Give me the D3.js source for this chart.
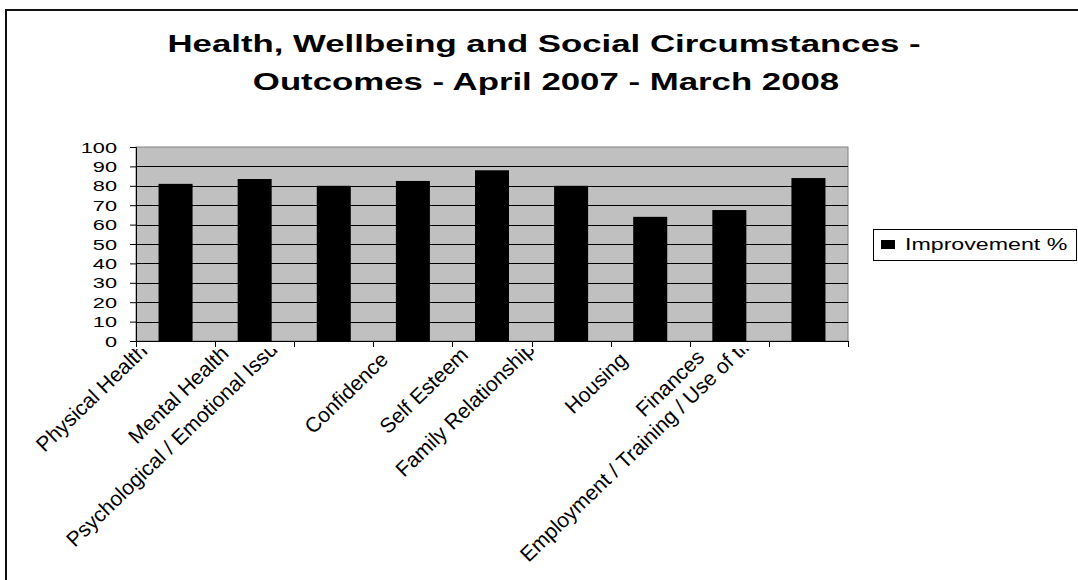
<!DOCTYPE html>
<html>
<head>
<meta charset="utf-8">
<script src="https://cdn.jsdelivr.net/npm/d3@7"></script>
<style>
  body { margin: 0; background: #fff; }
  text { font-family: "Liberation Sans", Arial, sans-serif; fill: #000; }
</style>
</head>
<body>
<script>
var categories = ['Physical Health', 'Mental Health', 'Psychological / Emotional Issues', 'Confidence',
    'Self Esteem', 'Family Relationships', 'Housing', 'Finances', 'Employment / Training / Use of time'];
var improvement = [81, 83.5, 80, 82.5, 88, 80, 64, 67.5, 84];
var yTicks = [0, 10, 20, 30, 40, 50, 60, 70, 80, 90, 100];
var titleLines = ['Health, Wellbeing and Social Circumstances -', 'Outcomes - April 2007 - March 2008'];
var seriesName = 'Improvement %';

// label start offsets (x relative to band centre, y absolute), the way Excel laid them out
var labelStart = [[-131, 453], [-118, 445], [-259, 548], [-100, 435], [-104, 435],
    [-167, 478], [-77, 415], [-85, 418], [-280, 563]];

var width = 1078, height = 580;
var sx = 1.45; // picture is stretched sideways
var plot = { left: 136, right: 848, top: 147, bottom: 341 };

var svg = d3.select('body').append('svg')
    .attr('width', width)
    .attr('height', height);

// chart border
svg.append('rect')
    .attr('x', 6).attr('y', 10)
    .attr('width', width + 10).attr('height', height + 10)
    .attr('fill', 'none').attr('stroke', '#111').attr('stroke-width', 2);

var x = d3.scaleBand()
    .domain(categories)
    .range([plot.left, plot.right])
    .paddingInner(0.57)
    .paddingOuter(0.285);
var step = x.step();
var y = d3.scaleLinear().domain([0, 100]).range([plot.bottom, plot.top]);

// title
svg.append('g').selectAll('text')
    .data(titleLines)
    .enter().append('text')
    .attr('text-anchor', 'middle')
    .attr('font-weight', 'bold')
    .attr('font-size', 24)
    .attr('transform', function (d, i) { return 'translate(' + (i === 0 ? 544 : 546) + ',' + (52 + i * 38) + ') scale(' + sx + ',1)'; })
    .text(function (d) { return d; });

// plot background
svg.append('rect')
    .attr('x', plot.left).attr('y', plot.top)
    .attr('width', plot.right - plot.left).attr('height', plot.bottom - plot.top)
    .attr('fill', '#c0c0c0').attr('stroke', '#808080').attr('stroke-width', 1);

// gridlines
svg.append('g').selectAll('line')
    .data(yTicks.filter(function (d) { return d > 0 && d < 100; }))
    .enter().append('line')
    .attr('x1', plot.left).attr('x2', plot.right)
    .attr('y1', function (d) { return Math.round(y(d)) + 0.5; })
    .attr('y2', function (d) { return Math.round(y(d)) + 0.5; })
    .attr('stroke', '#000').attr('stroke-width', 1);

// bars
svg.append('g').selectAll('rect')
    .data(improvement)
    .enter().append('rect')
    .attr('x', function (d, i) { return x(categories[i]); })
    .attr('width', x.bandwidth())
    .attr('y', function (d) { return y(d); })
    .attr('height', function (d) { return y(0) - y(d); })
    .attr('fill', '#000');

// y axis
var yAxis = svg.append('g')
    .attr('transform', 'translate(' + plot.left + ',0)')
    .call(d3.axisLeft(y).tickValues(yTicks).tickSize(6).tickFormat(function () { return ''; }));
yAxis.select('.domain').attr('stroke', '#000');
yAxis.selectAll('.tick line').attr('stroke', '#000');

svg.append('g').selectAll('text')
    .data(yTicks)
    .enter().append('text')
    .attr('text-anchor', 'end')
    .attr('font-size', 15)
    .attr('transform', function (d) { return 'translate(117,' + (y(d) + 5.5) + ') scale(' + sx + ',1)'; })
    .text(function (d) { return d; });

// x axis with ticks on the band edges
var edges = d3.range(categories.length + 1).map(function (i) { return plot.left + i * step; });
svg.append('line')
    .attr('x1', plot.left).attr('x2', plot.right)
    .attr('y1', plot.bottom + 0.5).attr('y2', plot.bottom + 0.5)
    .attr('stroke', '#000');
svg.append('g').selectAll('line')
    .data(edges)
    .enter().append('line')
    .attr('x1', function (d) { return Math.round(d) + 0.5; })
    .attr('x2', function (d) { return Math.round(d) + 0.5; })
    .attr('y1', plot.bottom).attr('y2', plot.bottom + 6)
    .attr('stroke', '#000');

// category labels, rotated and clipped at the top like the original
svg.append('clipPath').attr('id', 'labclip')
    .append('rect').attr('x', 0).attr('y', 349).attr('width', width).attr('height', height);
svg.append('g')
    .attr('clip-path', 'url(#labclip)')
    .selectAll('text')
    .data(categories)
    .enter().append('text')
    .attr('font-size', 21)
    .attr('transform', function (d, i) {
        var cx = x(d) + x.bandwidth() / 2;
        return 'translate(' + (cx + labelStart[i][0]) + ',' + labelStart[i][1] + ') rotate(-44)';
    })
    .text(function (d) { return d; });

// legend
var legend = svg.append('g');
legend.append('rect')
    .attr('x', 873.5).attr('y', 229.5).attr('width', 203).attr('height', 31)
    .attr('fill', '#fff').attr('stroke', '#000');
legend.append('rect')
    .attr('x', 881).attr('y', 240).attr('width', 14).attr('height', 9)
    .attr('fill', '#000');
legend.append('text')
    .attr('font-size', 16)
    .attr('transform', 'translate(905,250) scale(' + sx + ',1)')
    .text(seriesName);
</script>
</body>
</html>
